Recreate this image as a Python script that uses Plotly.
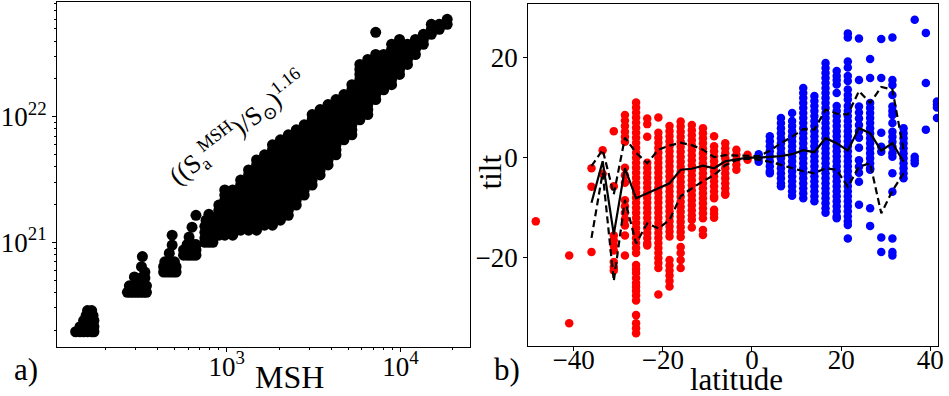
import plotly.graph_objects as go

# ---------------- panel a) : MSH vs flux (flux in units of 1e21) ----------------
cluster_msh = [135, 143, 150, 158, 167, 172, 143, 150, 158, 167, 172, 150, 158, 167, 172, 155, 163, 170, 158, 167,
               268, 280, 292, 305, 318, 332, 345, 275, 290, 305, 320, 335, 345, 294, 320, 338, 338, 323, 327,
               433, 452, 472, 492, 511, 433, 452, 472, 492, 511, 440, 460, 480, 500, 467, 485, 485,
               564, 591, 615, 640, 665, 564, 591, 615, 640, 665, 591, 615, 640, 665, 607, 631, 665,
               748, 789, 832, 748, 789, 832, 748, 789, 832, 748, 789, 832, 760, 810, 789]
cluster_flux = [0.194, 0.194, 0.194, 0.194, 0.194, 0.194, 0.213, 0.213, 0.213, 0.213, 0.213, 0.238, 0.238, 0.238, 0.238,
                0.261, 0.261, 0.261, 0.286, 0.286,
                0.40, 0.40, 0.40, 0.40, 0.40, 0.40, 0.40, 0.45, 0.45, 0.45, 0.45, 0.45, 0.45, 0.53, 0.52, 0.52, 0.58, 0.64, 0.77,
                0.58, 0.58, 0.58, 0.58, 0.58, 0.64, 0.64, 0.64, 0.64, 0.64, 0.70, 0.70, 0.70, 0.70, 0.82, 0.95, 1.14,
                0.79, 0.79, 0.79, 0.79, 0.79, 0.87, 0.87, 0.87, 0.87, 0.87, 0.96, 0.96, 0.96, 0.96, 1.10, 1.32, 1.64,
                1.0, 1.0, 1.0, 1.08, 1.08, 1.08, 1.20, 1.20, 1.20, 1.34, 1.34, 1.34, 1.50, 1.50, 1.67]

band_msh = [900, 974, 1082, 1202, 1335, 1484, 1649, 1832, 2035, 2261, 2512, 2790, 3100, 3445, 3827, 4252, 4724,
            5248, 5831, 6478, 7197, 7997, 8884, 9869, 10965, 12181, 13534, 15036, 16706, 18561]
band_flux = [
    [1.98, 1.80, 1.64, 1.50, 1.37, 1.25, 1.14],
    [2.61, 2.38, 2.17, 1.98, 1.80, 1.64, 1.50, 1.37, 1.25, 1.14],
    [2.61, 2.38, 2.17, 1.98, 1.80, 1.64, 1.50, 1.37, 1.25, 1.14],
    [3.13, 2.86, 2.61, 2.38, 2.17, 1.98, 1.80, 1.64, 1.50, 1.37, 1.25],
    [3.77, 3.44, 3.13, 2.86, 2.61, 2.38, 2.17, 1.98, 1.80, 1.64, 1.50, 1.37, 1.25],
    [4.53, 4.13, 3.77, 3.44, 3.13, 2.86, 2.61, 2.38, 2.17, 1.98, 1.80, 1.64, 1.50, 1.37, 1.25],
    [4.97, 4.53, 4.13, 3.77, 3.44, 3.13, 2.86, 2.61, 2.38, 2.17, 1.98, 1.80, 1.64, 1.50, 1.37],
    [5.97, 5.45, 4.97, 4.53, 4.13, 3.77, 3.44, 3.13, 2.86, 2.61, 2.38, 2.17, 1.98, 1.80, 1.64, 1.50, 1.37],
    [6.55, 5.97, 5.45, 4.97, 4.53, 4.13, 3.77, 3.44, 3.13, 2.86, 2.61, 2.38, 2.17, 1.98, 1.80, 1.64, 1.50],
    [7.18, 6.55, 5.97, 5.45, 4.97, 4.53, 4.13, 3.77, 3.44, 3.13, 2.86, 2.61, 2.38, 2.17, 1.98, 1.80, 1.64],
    [7.87, 7.18, 6.55, 5.97, 5.45, 4.97, 4.53, 4.13, 3.77, 3.44, 3.13, 2.86, 2.61, 2.38, 2.17, 1.98],
    [8.63, 7.87, 7.18, 6.55, 5.97, 5.45, 4.97, 4.53, 4.13, 3.77, 3.44, 3.13, 2.86, 2.61, 2.38],
    [10.4, 9.46, 8.63, 7.87, 7.18, 6.55, 5.97, 5.45, 4.97, 4.53, 4.13, 3.77, 3.44, 3.13, 2.86],
    [11.4, 10.4, 9.46, 8.63, 7.87, 7.18, 6.55, 5.97, 5.45, 4.97, 4.53, 4.13, 3.77, 3.44],
    [12.5, 11.4, 10.4, 9.46, 8.63, 7.87, 7.18, 6.55, 5.97, 5.45, 4.97, 4.53, 4.13],
    [13.7, 12.5, 11.4, 10.4, 9.46, 8.63, 7.87, 7.18, 6.55, 5.97, 5.45, 4.97],
    [15.0, 13.7, 12.5, 11.4, 10.4, 9.46, 8.63, 7.87, 7.18, 6.55],
    [18.0, 16.4, 15.0, 13.7, 12.5, 11.4, 10.4, 9.46, 8.63, 7.87, 7.18],
    [26.1, 23.8, 21.7, 19.8, 18.0, 16.4, 15.0, 13.7, 12.5, 11.4, 10.4, 9.46],
    [28.6, 26.1, 23.8, 21.7, 19.8, 18.0, 16.4, 15.0, 13.7, 12.5, 11.4, 10.4],
    [47.0, 31.3, 28.6, 26.1, 23.8, 21.7, 19.8, 18.0, 16.4, 15.0, 13.7],
    [31.3, 28.6, 26.1, 23.8, 21.7, 19.8, 18.0, 16.4],
    [37.7, 34.4, 31.3, 28.6, 26.1, 23.8, 21.7, 19.8, 18.0],
    [41.3, 37.7, 34.4, 31.3, 28.6, 26.1, 23.8, 21.7],
    [37.7, 34.4, 31.3, 28.6, 26.1],
    [41.3, 37.7, 34.4, 31.3],
    [45.3, 41.3, 37.7],
    [54.4, 49.7, 45.3],
    [54.4, 49.7],
    [59.7, 54.4],
]

# ---------------- panel b) : latitude vs tilt ----------------
red_lat = [-48.5, -41, -36, -33.5, -31, -28.5, -26, -23.5, -21, -18.5, -16, -13.5, -11, -8.5, -6, -3.5, -1]
red_tilt = [
    [-12.7],
    [-19.5, -33],
    [-2.1, -5.8, -18.8],
    [1.5, -3.2],
    [5.3, -5.7, -15.5, -16.5, -17.5, -18.5, -20.8, -21.8, -22.5],
    [8.5, 7.4, 6.3, 5.2, 4.2, 3.2, -2, -3.5, -5, -8.5, -9.7, -11, -12.3, -13.5, -15.5, -19.5],
    [11, 10, 9, 8, 7, 6, 5, 4, 3, 2, 1, 0, -1, -2, -3, -4, -5, -6, -7, -8, -9, -10, -11, -12, -13, -14, -15,
     -16, -17, -18, -19, -21.4, -22.2, -23, -24, -25, -25.8, -26.6, -27.5, -28.5, -31.4, -33, -34, -35],
    [7.8, 6.7, 4.2, -1, -2, -3, -4, -5, -6, -7, -8, -9, -10, -11, -12, -13, -14, -15, -16, -17, -17.5],
    [8.0, 5, 4, 3, 2, 1, 0, -1, -2, -3, -4, -5, -6, -7, -8, -9, -10, -11, -12, -13, -14, -15, -16, -17, -18,
     -19, -20, -21, -22, -27.3],
    [6.3, 5.3, 4.3, 3.3, 2.3, 1.3, 0.3, -0.7, -1.7, -2.7, -3.7, -4.7, -5.7, -6.7, -7.7, -8.7, -9.7, -10.7,
     -11.7, -12.7, -13.7, -14.7, -15.7, -20.4, -21.5, -22.5, -23.5, -24.6, -25.7],
    [7.2, 6.2, 5.2, 4.2, 3.2, 2.2, 1.2, 0.2, -0.8, -1.8, -2.8, -3.8, -4.8, -5.8, -6.8, -7.8, -8.8, -9.8, -10.8,
     -11.8, -12.8, -13.8, -14.8, -15.8, -17.8, -19, -20.4, -22],
    [6.5, 5.5, 4.5, 3.5, 2.5, 1.5, 0.5, -0.5, -1.5, -2.5, -3.5, -4.5, -5.5, -6.5, -7.5, -8.5, -9.5, -10.5,
     -11.5, -12.4, -13.9],
    [5.9, 4.9, 3.9, 2.9, 1.9, 0.9, -0.1, -1.1, -2.1, -3.1, -4.1, -5.1, -6.1, -7.1, -8.1, -9.1, -10.1, -11.1,
     -12.1, -14.4, -15.4],
    [4.3, 2.3, 1.3, 0.3, -0.7, -1.7, -2.7, -3.7, -4.7, -5.7, -6.7, -7.7, -8.1, -10.4, -11.2, -12],
    [2.9, 1.9, 0.9, -0.1, -1.1, -2.1, -3.1, -4.1, -5.1, -6.1, -7.1, -7.4],
    [1.6, 0.6, -0.4, -1.4, -2.4],
    [0.6, 0, -0.4],
]
blue_lat = [1.5, 4, 6.5, 9, 11.5, 14, 16.5, 19, 21.5, 24, 26.5, 29, 31.5, 34, 36.5, 39, 41.5]
blue_tilt = [
    [0.7, 0, -0.8],
    [4.3, 3.3, 2.3, 1.3, 0.3, -0.7, -1.7, -2.7, -3.1],
    [7.9, 6.9, 5.9, 4.9, 3.9, 2.9, 1.9, 0.9, -0.1, -1.1, -2.1, -3.1, -4.1, -5.1, -5.7],
    [8.9, 7.3, 6.3, 5.3, 4.3, 3.3, 2.3, 1.3, 0.3, -0.7, -1.7, -2.7, -3.7, -4.7, -5.7, -6.7, -7.6],
    [13.9, 12.9, 11.9, 10.9, 9.9, 8.9, 7.9, 6.9, 5.9, 4.9, 3.9, 2.9, 1.9, 0.9, -0.1, -1.1, -2.1, -3.1, -4.1,
     -5.1, -6.1, -7.1, -8.1],
    [12.3, 11.3, 10.3, 9.3, 8.3, 7.3, 6.3, 5.3, 4.3, 3.3, 2.3, 1.3, 0.3, -0.7, -1.7, -2.7, -3.7, -4.7, -5.7,
     -6.7, -7.7, -8.7],
    [18.9, 17.9, 16.9, 15.9, 14.9, 13.9, 12.9, 11.9, 10.9, 9.9, 8.9, 7.9, 6.9, 5.9, 4.9, 3.9, 2.9, 1.9, 0.9,
     -0.1, -1.1, -2.1, -3.1, -4.1, -5.1, -6.1, -7.1, -8.1, -9.1, -10.1, -11],
    [17.3, 16.3, 15.5, 14.6, 12.9, 10.3, 9.3, 8.3, 7.3, 6.3, 5.3, 4.3, 3.3, 2.3, 1.3, 0.3, -0.7, -1.7, -2.7,
     -3.7, -4.7, -5.7, -6.7, -7.7, -8.7, -9.7, -10.7, -11.7, -12.1],
    [24.8, 24, 19.2, 18, 16.3, 15.3, 13.6, 12.5, 11.6, 10.3, 9.3, 8.3, 7.3, 6.3, 5.3, 4.3, 3.3, 2.3, 1.3, 0.3,
     -0.7, -1.7, -2.7, -3.7, -4.7, -5.7, -6.7, -7.7, -8.7, -9.7, -10.7, -11.7, -12.7, -13.4, -16.1],
    [23.8, 15.5, 10.2, 9, 7.8, 6.5, 5.3, 4, 2, -0.5, -1.8, -3, -4.8, -9.4],
    [19.7, 15.9, 10.9, 9.9, 8.9, 7.9, 6.9, 5.9, 4.9, 3.9, 2.9, 1.9, 0.9, -0.1, -1.1, -2.1, -2.4, -10.1, -13.6],
    [23.7, 15.9, 5, 2.2, 1.2, -15.9, -18.8],
    [24, 15.5, 14.5, 12.5, 10.2, 9.3, 8.5, 6.9, 5.2, 4.2, 3.2, 2.2, 0.9, 0.2, -3.1, -6.8, -16.1, -18.8, -19.5],
    [5.9, 4.9, 3.9, 2.9, 1.9, 0.9, -0.1, -1.1, -2.1, -3.1, -4.1],
    [27.5, 0.2, -0.5, -1.1],
    [24.9, 14.9, 5.6],
    [11.2, 10.6, 10, 7.9],
]

line_lat = [-36, -33.5, -31, -28.5, -26, -23.5, -21, -18.5, -16, -13.5, -11, -8.5, -6, -3.5, -1,
            1.5, 4, 6.5, 9, 11.5, 14, 16.5, 19, 21.5, 24, 26.5, 29, 31.5, 34]
mean_tilt = [-9.0, -0.7, -15.3, -2.1, -8.1, -7.1, -6.2, -5.1, -2.4, -2.2, -1.6, -2.1, -0.7, -0.3, 0.0,
             0.0, 0.2, 0.3, 0.7, 1.5, 1.1, 3.9, 2.9, 1.4, 5.9, 4.9, 1.4, 2.9, -0.8]
upper_tilt = [-1.7, 1.6, -7.3, 4.0, 1.0, -1.1, 1.6, 2.4, 3.0, 2.5, 1.6, 0.1, 0.5, 0.4, 0.3,
              0.3, 1.4, 2.9, 4.2, 5.7, 5.6, 9.6, 8.8, 8.6, 13.3, 10.9, 14.1, 13.6, 1.5]
lower_tilt = [-16.0, -3.0, -24.6, -8.4, -17.1, -13.1, -14.1, -12.4, -7.7, -6.1, -4.7, -3.5, -1.5, -0.5, -0.2,
              -0.4, -0.8, -1.4, -2.1, -2.7, -3.1, -2.1, -2.4, -5.8, -1.8, -1.1, -11.1, -6.6, -3.1]

# ---------------- build figure ----------------
W, H = 949, 396
SERIF = "Liberation Serif, Times New Roman, DejaVu Serif, serif"

ax, ay = [], []
for m, fl in zip(band_msh, band_flux):
    for f in fl:
        ax.append(m)
        ay.append(f * 1e21)
for m, f in zip(cluster_msh, cluster_flux):
    ax.append(m)
    ay.append(f * 1e21)

rx, ry = [], []
for lat, ts in zip(red_lat, red_tilt):
    for t in ts:
        rx.append(lat)
        ry.append(t)
bx, by = [], []
for lat, ts in zip(blue_lat, blue_tilt):
    for t in ts:
        bx.append(lat)
        by.append(t)

fig = go.Figure()
fig.add_trace(go.Scatter(x=ax, y=ay, mode="markers", xaxis="x", yaxis="y",
                         marker=dict(color="black", size=11, line=dict(width=0)),
                         hoverinfo="skip", showlegend=False))
fig.add_trace(go.Scatter(x=rx, y=ry, mode="markers", xaxis="x2", yaxis="y2",
                         marker=dict(color="#ff0000", size=8.5, line=dict(width=0)),
                         hoverinfo="skip", showlegend=False))
fig.add_trace(go.Scatter(x=bx, y=by, mode="markers", xaxis="x2", yaxis="y2",
                         marker=dict(color="#0000ff", size=8.5, line=dict(width=0)),
                         hoverinfo="skip", showlegend=False))
fig.add_trace(go.Scatter(x=line_lat, y=mean_tilt, mode="lines", xaxis="x2", yaxis="y2",
                         line=dict(color="black", width=2.2), hoverinfo="skip", showlegend=False))
for series in (upper_tilt, lower_tilt):
    fig.add_trace(go.Scatter(x=line_lat, y=series, mode="lines", xaxis="x2", yaxis="y2",
                             line=dict(color="black", width=2.2, dash="7px,4px"),
                             hoverinfo="skip", showlegend=False))

x_minor = [200, 300, 400, 500, 600, 700, 800, 900, 2000, 3000, 4000, 5000, 6000, 7000, 8000, 9000, 20000]
y_minor = [2e20, 3e20, 4e20, 5e20, 6e20, 7e20, 8e20, 9e20, 2e21, 3e21, 4e21, 5e21, 6e21, 7e21, 8e21, 9e21,
           2e22, 3e22, 4e22, 5e22, 6e22, 7e22, 8e22]

common = dict(showline=True, mirror=True, linecolor="black", linewidth=1, ticks="outside",
              ticklen=4, tickwidth=1, tickcolor="black", showgrid=False, zeroline=False,
              tickfont=dict(family=SERIF, size=27, color="black"))
minor_common = dict(ticks="outside", ticklen=2, tickwidth=1, tickcolor="black", showgrid=False,
                    tickmode="array")

fig.update_layout(
    width=W, height=H, margin=dict(l=0, r=0, t=0, b=0),
    paper_bgcolor="white", plot_bgcolor="white", showlegend=False,
    font=dict(family=SERIF, color="black"),
    xaxis=dict(domain=[57.3 / W, 472.7 / W], type="log", range=[2.023, 4.401], anchor="y",
               tickvals=[1e3, 1e4], ticktext=["10<sup>3</sup>", "10<sup>4</sup>"], ticklabelstandoff=-9,
               minor=dict(tickvals=x_minor, **minor_common), **common),
    yaxis=dict(domain=[(H - 347.3) / H, (H - 1.7) / H], type="log", range=[20.164, 22.916], anchor="x",
               tickvals=[1e21, 1e22], ticktext=["10<sup>21</sup>", "10<sup>22</sup>"],
               minor=dict(tickvals=y_minor, **minor_common), **common),
    xaxis2=dict(domain=[531 / W, 943.3 / W], range=[-50.2, 41.8], anchor="y2", ticklabelstandoff=-14,
                tickvals=[-40, -20, 0, 20, 40], ticktext=["\u221240", "\u221220", "0", "20", "40"], **common),
    yaxis2=dict(domain=[(H - 345.7) / H, (H - 4.3) / H], range=[-37.5, 30.6], anchor="x2",
                tickvals=[-20, 0, 20], ticktext=["\u221220", "0", "20"], **common),
)

ann = [
    dict(text="a)", x=26 / W, y=1 - 369 / H, size=31, angle=0),
    dict(text="b)", x=510 / W, y=1 - 369 / H, size=31, angle=0),
    dict(text="MSH", x=291 / W, y=1 - 377 / H, size=32, angle=0),
    dict(text="latitude", x=740 / W, y=1 - 379 / H, size=31, angle=0),
    dict(text="tilt", x=493 / W, y=1 - 172 / H, size=31, angle=-90),
    dict(text="((S<sub>a</sub><sup>MSH</sup>)/S<sub>\u2299</sub>)<sup>1.16</sup>",
         x=239 / W, y=1 - 128 / H, size=26, angle=-38),
]
for a in ann:
    fig.add_annotation(text=a["text"], x=a["x"], y=a["y"], xref="paper", yref="paper",
                       xanchor="center", yanchor="middle", showarrow=False, textangle=a["angle"],
                       font=dict(family=SERIF, size=a["size"], color="black"))

fig.write_html("out.html")
